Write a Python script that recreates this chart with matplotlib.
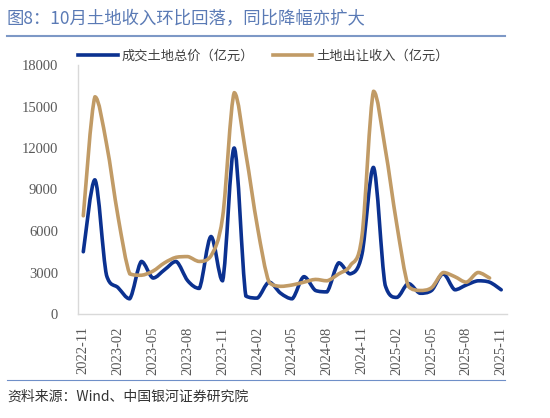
import matplotlib
matplotlib.use("Agg")
import matplotlib.pyplot as plt
from matplotlib.path import Path
from matplotlib.patches import PathPatch
from matplotlib.lines import Line2D
import numpy as np

# ---- data (monthly, 2022-11 .. 2025-11) ----
tick_labels = ["2022-11", "2023-02", "2023-05", "2023-08", "2023-11", "2024-02",
               "2024-05", "2024-08", "2024-11", "2025-02", "2025-05", "2025-08", "2025-11"]
land_deal_total = [4500, 9700, 2800, 1900, 1100, 3800, 2600, 3200, 3800, 2400, 1850, 5600,
                   2400, 12000, 1300, 1150, 2300, 1500, 1100, 2700, 1700, 1600, 3700, 2900,
                   4300, 10600, 2100, 1200, 2200, 1500, 1700, 2900, 1750, 2100, 2400, 2300,
                   1750]
land_sale_revenue = [7100, 15700, 12300, 7000, 2900, 2800, 3100, 3700, 4100, 4150, 3800, 4200,
                     7000, 16000, 11600, 6300, 2300, 2000, 2100, 2300, 2500, 2400, 2900, 3500,
                     5600, 16100, 12000, 6500, 2000, 1700, 1900, 3000, 2700, 2300, 3000, 2600]
series_names = ["成交土地总价（亿元）", "土地出让收入（亿元）"]

BLUE = "#0b3190"
TAN = "#c19b66"
CJK = ["Noto Sans CJK SC", "DejaVu Sans"]
SERIF = ["Liberation Serif", "Noto Sans CJK SC"]


def smooth_path(values):
    """Smoothed line as cubic Bezier segments through the data points
    (control points kept within each segment's value range to avoid overshoot)."""
    pts = np.column_stack([np.arange(len(values)), np.asarray(values, float)])
    n = len(pts)
    verts = [pts[0]]
    codes = [Path.MOVETO]
    for i in range(n - 1):
        p_prev = pts[i - 1] if i > 0 else pts[i]
        p_next2 = pts[i + 2] if i + 2 < n else pts[i + 1]
        c1 = pts[i] + (pts[i + 1] - p_prev) / 6.0
        c2 = pts[i + 1] - (p_next2 - pts[i]) / 6.0
        lo, hi = min(pts[i][1], pts[i + 1][1]), max(pts[i][1], pts[i + 1][1])
        c1[1] = np.clip(c1[1], lo, hi)
        c2[1] = np.clip(c2[1], lo, hi)
        verts += [c1, c2, pts[i + 1]]
        codes += [Path.CURVE4] * 3
    return Path(verts, codes)


fig = plt.figure(figsize=(5.5, 4.18), dpi=100)
ax = fig.add_axes([77.5 / 550, 1 - 314 / 418, (507 - 77.5) / 550, (314 - 65) / 418])

for vals, col in [(land_deal_total, BLUE), (land_sale_revenue, TAN)]:
    patch = PathPatch(smooth_path(vals), facecolor="none", edgecolor=col, lw=2.6,
                      capstyle="round", joinstyle="round", transform=ax.transData)
    ax.add_patch(patch)

n = len(land_deal_total)
ax.set_xlim(-0.5, n - 0.5)
ax.set_ylim(0, 18000)
ax.set_yticks(np.arange(0, 18001, 3000))
ax.set_xticks(np.arange(0, n, 3))
ax.set_xticklabels(tick_labels, rotation=90)
for lab in ax.get_xticklabels() + ax.get_yticklabels():
    lab.set_fontfamily(SERIF)
    lab.set_fontsize(10.5)
    lab.set_color("#595959")
ax.tick_params(axis="both", length=0)
ax.tick_params(axis="y", pad=14)
ax.tick_params(axis="x", pad=9)
for s in ["top", "right"]:
    ax.spines[s].set_visible(False)
for s in ["left", "bottom"]:
    ax.spines[s].set_color("#d9d9d9")
    ax.spines[s].set_linewidth(1.0)

handles = [Line2D([], [], color=BLUE, lw=2.6), Line2D([], [], color=TAN, lw=2.6)]
fig.legend(handles, series_names, loc="center left", bbox_to_anchor=(78 / 550, 1 - 56 / 418),
           ncol=2, frameon=False, borderpad=0, borderaxespad=0, handlelength=3.0,
           handletextpad=0.3, columnspacing=1.4,
           prop={"family": CJK, "size": 9.5}, labelcolor="#404040")

# title and header rule
fig.text(7 / 550, 1 - 19 / 418, "图8：10月土地收入环比回落，同比降幅亦扩大",
         fontsize=12.5, color="#5a7ab5", family=CJK, va="center", ha="left")
fig.add_artist(Line2D([7 / 550, 505 / 550], [1 - 36 / 418, 1 - 36 / 418],
                      color="#7d98c6", lw=1.5, transform=fig.transFigure))

# footer rule and source
fig.add_artist(Line2D([7 / 550, 505 / 550], [1 - 380 / 418, 1 - 380 / 418],
                      color="#6f8fc8", lw=0.8, transform=fig.transFigure))
fig.text(7 / 550, 1 - 397 / 418, "资料来源：Wind、中国银河证券研究院",
         fontsize=10, color="#333333", family=CJK, va="center", ha="left", style="italic")

fig.savefig("out.png", dpi=100)
